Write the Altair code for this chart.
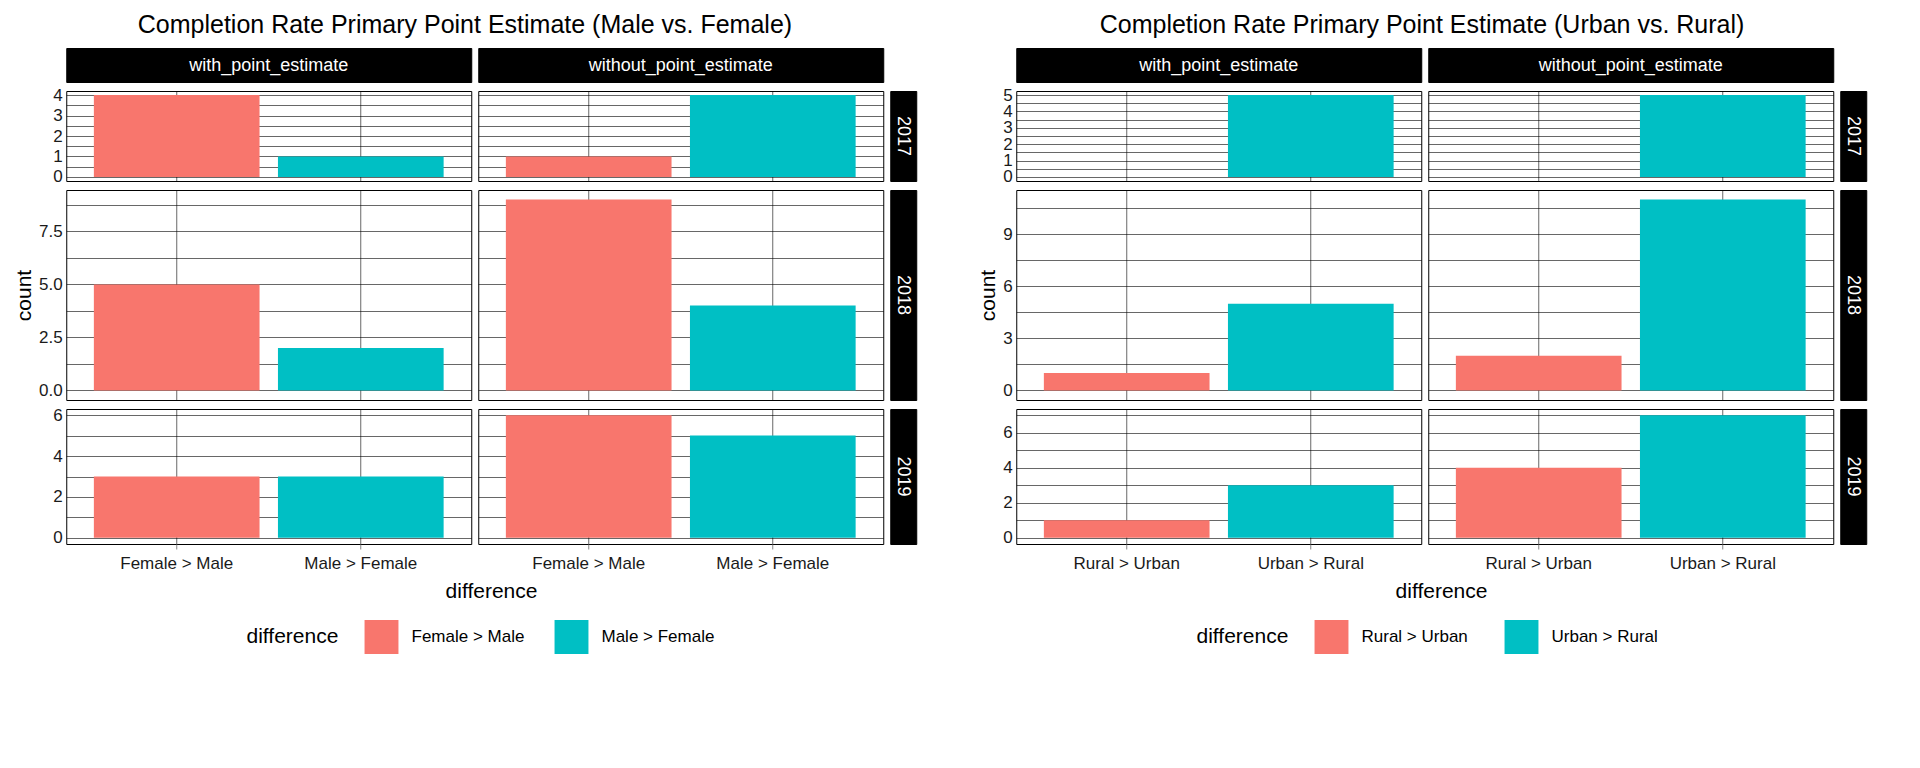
import altair as alt
import pandas as pd

years = [2017, 2018, 2019]
ests = ["with_point_estimate", "without_point_estimate"]

mf_cats = ["Female > Male", "Male > Female"]
mf_with = [[4, 1], [5, 2], [3, 3]]
mf_without = [[1, 4], [9, 4], [6, 5]]
mf_rows = [(4, [0, 1, 2, 3, 4], "d"), (9, [0, 2.5, 5, 7.5], ".1f"), (6, [0, 2, 4, 6], "d")]

ur_cats = ["Rural > Urban", "Urban > Rural"]
ur_with = [[0, 5], [1, 5], [1, 3]]
ur_without = [[0, 5], [2, 11], [4, 7]]
ur_rows = [(5, [0, 1, 2, 3, 4, 5], "d"), (11, [0, 3, 6, 9], "d"), (7, [0, 2, 4, 6], "d")]

COLORS = ["#F8766D", "#00BFC4"]
W = 405
STRIP = 26
HEADER = 34
ROW_H = [90, 210, 135]
FONT = "Liberation Sans"


def panel(cats, counts, rowinfo, h, bottom, first, ytitle):
    ymax, majors, fmt = rowinfo
    lo, hi = -0.05 * ymax, 1.05 * ymax
    step = majors[1] - majors[0]
    minors = [m + step / 2 for m in majors if m + step / 2 <= hi]
    vals = sorted(majors + minors)
    df = pd.DataFrame({"difference": cats, "count": counts})
    df = df[df["count"] > 0]
    xaxis = alt.Axis(bandPosition=0.5, grid=True, labels=bottom, ticks=bottom, title=None,
                     domain=False, labelFontSize=17, labelColor="#1a1a1a", labelPadding=6,
                     labelAngle=0, labelOverlap=False)
    majors_js = "[" + ",".join(str(m) for m in majors) + "]"
    yaxis = alt.Axis(values=vals, grid=True, labels=first, ticks=False, domain=False,
                     labelExpr=f"indexof({majors_js}, datum.value) >= 0 ? format(datum.value, '{fmt}') : ''",
                     title=ytitle if first else None, labelFontSize=17, labelColor="#1a1a1a",
                     titleFontSize=21, titleFontWeight="normal", labelPadding=4, labelOverlap=False)
    return alt.Chart(df).mark_bar().encode(
        x=alt.X("difference:N", scale=alt.Scale(domain=cats, paddingInner=0.1, paddingOuter=0.15), axis=xaxis),
        y=alt.Y("count:Q", scale=alt.Scale(domain=[lo, hi], nice=False, zero=False), axis=yaxis),
        y2=alt.datum(0),
        color=alt.Color("difference:N", scale=alt.Scale(domain=cats, range=COLORS), legend=None),
    ).properties(width=W, height=h, view=alt.ViewBackground(stroke="black", fill="white"))


def header(text):
    return alt.Chart(pd.DataFrame({"t": [text]})).mark_text(
        color="white", fontSize=18, font=FONT).encode(
        text="t:N", x=alt.value(W / 2), y=alt.value(HEADER / 2 + 1)
    ).properties(width=W, height=HEADER, view=alt.ViewBackground(fill="black", stroke="black"))


def strip(text, h):
    return alt.Chart(pd.DataFrame({"t": [str(text)]})).mark_text(
        color="white", fontSize=18, font=FONT, angle=90).encode(
        text="t:N", x=alt.value(STRIP / 2), y=alt.value(h / 2)
    ).properties(width=STRIP, height=h, view=alt.ViewBackground(fill="black", stroke="black"))


def empty(w, h):
    return alt.Chart(pd.DataFrame({"t": [""]})).mark_text().encode(
        text="t:N", x=alt.value(0), y=alt.value(0)
    ).properties(width=w, height=h, view=alt.ViewBackground(stroke=None, fill=None))


def text_chart(text, w, h, size, align="center"):
    return alt.Chart(pd.DataFrame({"t": [text]})).mark_text(
        fontSize=size, font=FONT, color="black", align=align).encode(
        text="t:N", x=alt.value(w / 2 if align == "center" else 0), y=alt.value(h / 2)
    ).properties(width=w, height=h, view=alt.ViewBackground(stroke=None, fill=None))


def legend(cats):
    df = pd.DataFrame({"difference": cats})
    base = alt.Chart(df).encode(
        x=alt.X("difference:N", scale=alt.Scale(domain=cats, paddingInner=0, paddingOuter=0), axis=None))
    sq = base.mark_square(size=1150, opacity=1, xOffset=-70).encode(
        color=alt.Color("difference:N", scale=alt.Scale(domain=cats, range=COLORS), legend=None))
    tx = base.mark_text(align="left", dx=-40, fontSize=17, font=FONT, color="black").encode(text="difference:N")
    lg = alt.layer(sq, tx).properties(width=380, height=50, view=alt.ViewBackground(stroke=None, fill=None))
    t = text_chart("difference", 110, 50, 21, align="left")
    return alt.hconcat(t, lg, spacing=0)


def big(title, cats, withc, withoutc, rows):
    cells = [header(ests[0]), header(ests[1]), empty(STRIP, HEADER)]
    for i, y in enumerate(years):
        h = ROW_H[i]
        bottom = i == 2
        cells.append(panel(cats, withc[i], rows[i], h, bottom, True, "count" if i == 1 else None))
        cells.append(panel(cats, withoutc[i], rows[i], h, bottom, False, None))
        cells.append(strip(y, h))
    grid = alt.concat(*cells, columns=3, bounds="flush", spacing={"row": 9, "column": 7})
    diff = text_chart("difference", 2 * W + 6, 28, 21)
    return alt.vconcat(grid, diff, legend(cats), spacing=6, center=True).properties(
        title=alt.TitleParams(title, fontSize=25, font=FONT, fontWeight="normal", anchor="middle", color="black"))


left = big("Completion Rate Primary Point Estimate (Male vs. Female)", mf_cats, mf_with, mf_without, mf_rows)
right = big("Completion Rate Primary Point Estimate (Urban vs. Rural)", ur_cats, ur_with, ur_without, ur_rows)

chart = alt.hconcat(left, right, spacing=60).resolve_scale(color="independent").configure_axis(
    gridColor="black", gridWidth=0.6, gridOpacity=1, labelFont=FONT, titleFont=FONT
).configure_view(stroke="black").configure_concat(spacing=6)

chart.save("out.html", embed_options={"renderer": "svg", "actions": False})
